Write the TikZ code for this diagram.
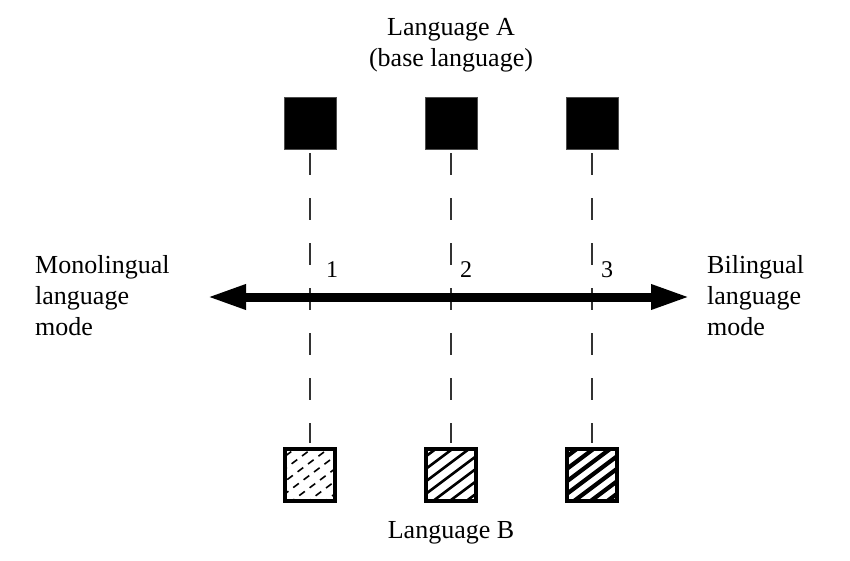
\documentclass[tikz,border=0pt]{standalone}
\usepackage{fontspec}
\setmainfont{Liberation Serif}
\usetikzlibrary{arrows.meta}
\tikzset{
  lbl/.style={font=\fontsize{26}{31}\selectfont, inner sep=0pt, text=black},
  num/.style={font=\fontsize{24}{28}\selectfont, inner sep=0pt, text=black},
  langA/.style={fill=black, draw=black!70, line width=0.5pt, minimum size=52pt, inner sep=0pt},
  langB/.style={draw=black, line width=4pt, fill=white, minimum width=50pt, minimum height=52pt, inner sep=0pt},
  guide/.style={line width=1.4pt, draw=black!80, dash pattern=on 22pt off 23pt},
  axis/.style={line width=9pt, {Triangle[length=39pt,width=23pt]}-{Triangle[length=39pt,width=23pt]}},
  hatched/.style={path picture={
      \foreach \i in {-7,...,7}
        \draw[#1] ([shift={({\i*6-48},{\i*8+36})}]path picture bounding box.center)
               -- ([shift={({\i*6+48},{\i*8-36})}]path picture bounding box.center);}},
}
\begin{document}
\begin{tikzpicture}[x=1pt,y=-1pt]
\useasboundingbox (0,0) rectangle (850,561);
% top squares (language A)
\node[langA] (a1) at (310,123) {};
\node[langA] (a2) at (451,123) {};
\node[langA] (a3) at (592,123) {};
% bottom squares (language B)
\node[langB, hatched={line width=1.6pt, dash pattern=on 7pt off 6pt}] (b1) at (310,475) {};
\node[langB, hatched={line width=2.6pt}] (b2) at (451,475) {};
\node[langB, hatched={line width=4.2pt}] (b3) at (592,475) {};
% dashed guides
\draw[guide] ([yshift=-4pt]a1.south) -- ([yshift=4pt]b1.north);
\draw[guide] ([yshift=-4pt]a2.south) -- ([yshift=4pt]b2.north);
\draw[guide] ([yshift=-4pt]a3.south) -- ([yshift=4pt]b3.north);
% continuum arrow
\coordinate (L) at (207,297);
\coordinate (R) at (690,297);
\draw[axis] (L) -- (R);
% labels
\node[lbl, align=center, anchor=base] (la) at (451,67) {Language A\\(base language)};
\node[lbl, align=left, anchor=base west] (mono) at (35,335) {Monolingual\\language\\mode};
\node[lbl, align=left, anchor=base west] (bi) at (707,335) {Bilingual\\language\\mode};
\node[lbl, anchor=base] (lb) at (451,538) {Language B};
\node[num, anchor=base] (n1) at (332,277) {1};
\node[num, anchor=base] (n2) at (466,277) {2};
\node[num, anchor=base] (n3) at (607,277) {3};
\end{tikzpicture}
\end{document}
